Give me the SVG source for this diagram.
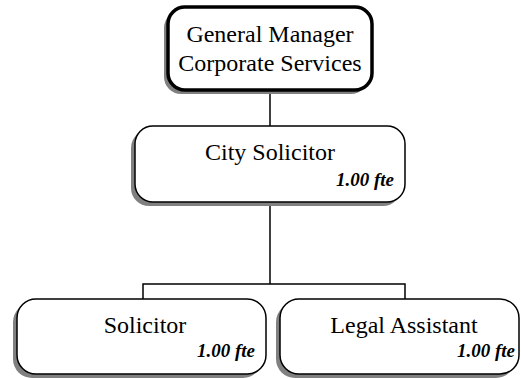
<svg xmlns="http://www.w3.org/2000/svg" width="521" height="378" viewBox="0 0 521 378">
<style>
.shadow{fill:#808080;stroke:none}
.box{fill:#fff;stroke:#000;stroke-width:1.5}
.boxb{fill:#fff;stroke:#000;stroke-width:3.5}
.t{font-family:"Liberation Serif","Times New Roman",serif;font-size:24px;fill:#000;text-anchor:middle}
.f{font-family:"Liberation Serif","Times New Roman",serif;font-size:19px;font-weight:bold;font-style:italic;fill:#000;text-anchor:end}
.c{stroke:#000;stroke-width:1.5;fill:none}
</style>
<rect width="521" height="378" fill="#fff"/>
<g id="connectors">
<line class="c" x1="270" y1="90" x2="270" y2="126"/>
<line class="c" x1="270" y1="202" x2="270" y2="284"/>
<polyline class="c" points="143,300 143,284 405,284 405,300"/>
</g>
<g id="gm">
<rect class="shadow" x="164" y="11" width="204" height="83" rx="17"/>
<rect class="boxb" x="168" y="7" width="204" height="83" rx="17"/>
<text class="t" x="270" y="42">General Manager</text>
<text class="t" x="270" y="71">Corporate Services</text>
</g>
<g id="city">
<rect class="shadow" x="131" y="130" width="270" height="76" rx="18"/>
<rect class="box" x="135" y="126" width="270" height="76" rx="18"/>
<text class="t" x="270" y="160">City Solicitor</text>
<text class="f" x="394" y="186">1.00 fte</text>
</g>
<g id="solicitor">
<rect class="shadow" x="13" y="303" width="249" height="75" rx="19"/>
<rect class="box" x="17" y="299" width="249" height="75" rx="19"/>
<text class="t" x="145" y="333">Solicitor</text>
<text class="f" x="255" y="357">1.00 fte</text>
</g>
<g id="legal">
<rect class="shadow" x="276" y="303" width="239" height="75" rx="19"/>
<rect class="box" x="280" y="299" width="239" height="75" rx="19"/>
<text class="t" x="404" y="333">Legal Assistant</text>
<text class="f" x="515" y="357">1.00 fte</text>
</g>
</svg>
